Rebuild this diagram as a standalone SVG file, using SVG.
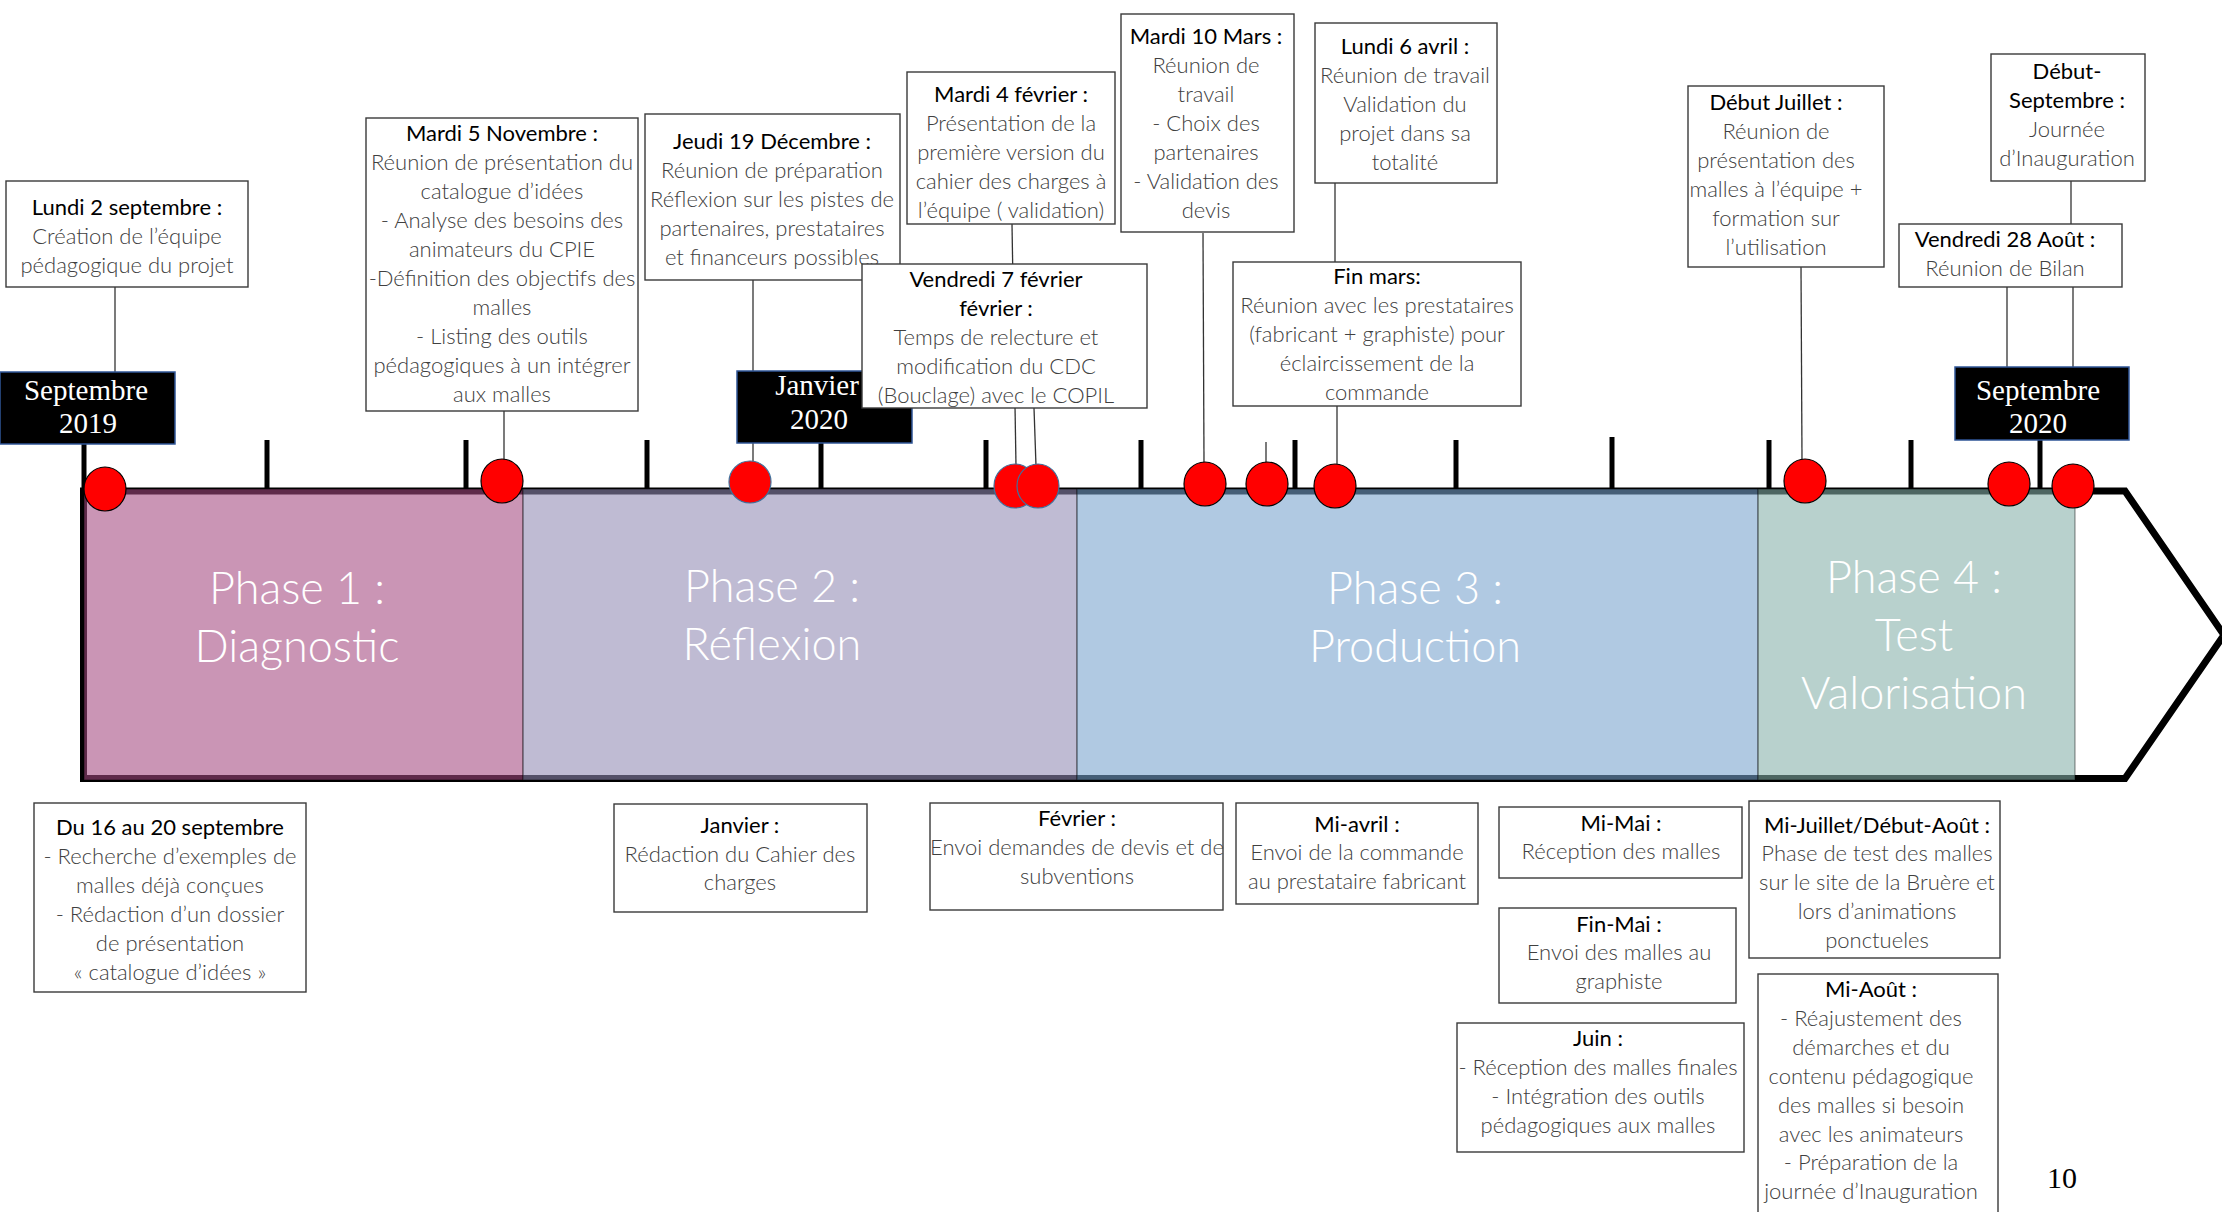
<svg xmlns="http://www.w3.org/2000/svg" width="2222" height="1212" viewBox="0 0 2222 1212">
<style>
.box{fill:#fff;stroke:#3a3a3a;stroke-width:1.4}
.t{font-family:Lato,"Liberation Sans",sans-serif;font-size:22px;text-anchor:middle}
.h{fill:#000;font-weight:400}
.b{fill:#404040;font-weight:300}
.conn{stroke:#333;stroke-width:1.3;fill:none}
.tick{stroke:#000;stroke-width:5}
.dot{fill:#ff0000;stroke:#000;stroke-width:1.2}
.dotb{fill:#ff0000;stroke:#41719c;stroke-width:1.2}
.month{fill:#000;stroke:#2f5597;stroke-width:1.5}
.mt{font-family:"Liberation Serif",serif;font-size:29px;fill:#fff;text-anchor:middle}
.ph{font-family:Lato,"Liberation Sans",sans-serif;font-weight:300;font-size:45px;fill:#fff;text-anchor:middle}
</style>

<g id="ticks">
<line class="tick" x1="84" y1="444" x2="84" y2="488"/>
<line class="tick" x1="267" y1="440" x2="267" y2="488"/>
<line class="tick" x1="466" y1="440" x2="466" y2="488"/>
<line class="tick" x1="647" y1="440" x2="647" y2="488"/>
<line class="tick" x1="821" y1="443" x2="821" y2="488"/>
<line class="tick" x1="986" y1="440" x2="986" y2="488"/>
<line class="tick" x1="1141" y1="440" x2="1141" y2="488"/>
<line class="tick" x1="1295" y1="440" x2="1295" y2="488"/>
<line class="tick" x1="1456" y1="440" x2="1456" y2="488"/>
<line class="tick" x1="1612" y1="437" x2="1612" y2="488"/>
<line class="tick" x1="1769" y1="440" x2="1769" y2="488"/>
<line class="tick" x1="1911" y1="440" x2="1911" y2="488"/>
<line class="tick" x1="2040" y1="440" x2="2040" y2="488"/>
</g>

<g id="timeline">
<path d="M83.5,491 L2125,491 L2224,635 L2125,778.5 L83.5,778.5 Z" fill="#fff" stroke="#000" stroke-width="7" stroke-linejoin="miter"/>
<rect x="84" y="489" width="439" height="291" fill="#A44880" fill-opacity="0.58" stroke="#000" stroke-opacity="0.5" stroke-width="1"/>
<rect x="523" y="489" width="554" height="291" fill="#918AB3" fill-opacity="0.58" stroke="#000" stroke-opacity="0.5" stroke-width="1"/>
<rect x="1077" y="489" width="681" height="291" fill="#77A2CD" fill-opacity="0.58" stroke="#000" stroke-opacity="0.5" stroke-width="1"/>
<rect x="1758" y="489" width="317" height="291" fill="#85B0A9" fill-opacity="0.58" stroke="#000" stroke-opacity="0.5" stroke-width="1"/>
<text class="ph" x="297" y="604">Phase 1 :</text>
<text class="ph" x="297" y="662">Diagnostic</text>
<text class="ph" x="772" y="602">Phase 2 :</text>
<text class="ph" x="772" y="660">Réflexion</text>
<text class="ph" x="1415" y="604">Phase 3 :</text>
<text class="ph" x="1415" y="662">Production</text>
<text class="ph" x="1914" y="593">Phase 4 :</text>
<text class="ph" x="1914" y="651">Test</text>
<text class="ph" x="1914" y="709">Valorisation</text>
</g>

<g id="connectors">
<line class="conn" x1="115" y1="287" x2="115" y2="372"/>
<line class="conn" x1="504" y1="411" x2="504" y2="460"/>
<line class="conn" x1="753" y1="280" x2="753" y2="462"/>
<line class="conn" x1="1012" y1="224" x2="1016" y2="466"/>
<line class="conn" x1="1034" y1="408" x2="1036" y2="466"/>
<line class="conn" x1="1203" y1="233" x2="1204" y2="463"/>
<line class="conn" x1="1266" y1="442" x2="1266" y2="463"/>
<line class="conn" x1="1335" y1="183" x2="1335" y2="262"/>
<line class="conn" x1="1337" y1="406" x2="1337" y2="464"/>
<line class="conn" x1="1801" y1="267" x2="1802" y2="460"/>
<line class="conn" x1="2071" y1="181" x2="2071" y2="224"/>
<line class="conn" x1="2073" y1="287" x2="2073" y2="367"/>
<line class="conn" x1="2007" y1="287" x2="2007" y2="367"/>
</g>

<g id="sept2019">
<rect class="month" x="0" y="372" width="175" height="72"/>
<text class="mt" x="86" y="400">Septembre</text>
<text class="mt" x="88" y="433">2019</text>
</g>
<g id="jan2020">
<rect class="month" x="737" y="371" width="175" height="72"/>
<text class="mt" x="817" y="395">Janvier</text>
<text class="mt" x="819" y="429">2020</text>
</g>
<g id="sept2020">
<rect class="month" x="1955" y="367" width="174" height="73"/>
<text class="mt" x="2038" y="400">Septembre</text>
<text class="mt" x="2038" y="433">2020</text>
</g>

<g id="dots">
<ellipse class="dot" cx="105" cy="489" rx="21" ry="22"/>
<ellipse class="dot" cx="502" cy="481" rx="21" ry="22"/>
<ellipse class="dotb" cx="750" cy="482" rx="21" ry="21"/>
<ellipse class="dotb" cx="1015" cy="486" rx="21" ry="22"/>
<ellipse class="dotb" cx="1038" cy="486" rx="21" ry="22"/>
<ellipse class="dot" cx="1205" cy="484" rx="21" ry="22"/>
<ellipse class="dot" cx="1267" cy="484" rx="21" ry="22"/>
<ellipse class="dot" cx="1335" cy="486" rx="21" ry="22"/>
<ellipse class="dot" cx="1805" cy="481" rx="21" ry="22"/>
<ellipse class="dot" cx="2009" cy="484" rx="21" ry="22"/>
<ellipse class="dot" cx="2073" cy="486" rx="21" ry="22"/>
</g>

<g id="n-lundi2sept">
<rect class="box" x="6" y="181" width="242" height="106"/>
<text class="t h" x="127" y="215">Lundi 2 septembre :</text>
<text class="t b" x="127" y="244">Création de l’équipe</text>
<text class="t b" x="127" y="273">pédagogique du projet</text>
</g>

<g id="n-mardi5nov">
<rect class="box" x="366" y="118" width="272" height="293"/>
<text class="t h" x="502" y="141">Mardi 5 Novembre :</text>
<text class="t b" x="502" y="170">Réunion de présentation du</text>
<text class="t b" x="502" y="199">catalogue d’idées</text>
<text class="t b" x="502" y="228">- Analyse des besoins des</text>
<text class="t b" x="502" y="257">animateurs du CPIE</text>
<text class="t b" x="502" y="286">-Définition des objectifs des</text>
<text class="t b" x="502" y="315">malles</text>
<text class="t b" x="502" y="344">- Listing des outils</text>
<text class="t b" x="502" y="373">pédagogiques à un intégrer</text>
<text class="t b" x="502" y="402">aux malles</text>
</g>

<g id="n-jeudi19dec">
<rect class="box" x="645" y="114" width="255" height="166"/>
<text class="t h" x="772" y="149">Jeudi 19 Décembre :</text>
<text class="t b" x="772" y="178">Réunion de préparation</text>
<text class="t b" x="772" y="207">Réflexion sur les pistes de</text>
<text class="t b" x="772" y="236">partenaires, prestataires</text>
<text class="t b" x="772" y="265">et financeurs possibles</text>
</g>

<g id="n-mardi4fev">
<rect class="box" x="907" y="72" width="208" height="152"/>
<text class="t h" x="1011" y="102">Mardi 4 février :</text>
<text class="t b" x="1011" y="131">Présentation de la</text>
<text class="t b" x="1011" y="160">première version du</text>
<text class="t b" x="1011" y="189">cahier des charges à</text>
<text class="t b" x="1011" y="218">l’équipe ( validation)</text>
</g>

<g id="n-vendredi7fev">
<rect class="box" x="862" y="264" width="285" height="144"/>
<text class="t h" x="996" y="287">Vendredi 7 février</text>
<text class="t h" x="996" y="316">février :</text>
<text class="t b" x="996" y="345">Temps de relecture et</text>
<text class="t b" x="996" y="374">modification du CDC</text>
<text class="t b" x="996" y="403">(Bouclage) avec le COPIL</text>
</g>

<g id="n-mardi10mars">
<rect class="box" x="1121" y="14" width="173" height="218"/>
<text class="t h" x="1206" y="44">Mardi 10 Mars :</text>
<text class="t b" x="1206" y="73">Réunion de</text>
<text class="t b" x="1206" y="102">travail</text>
<text class="t b" x="1206" y="131">- Choix des</text>
<text class="t b" x="1206" y="160">partenaires</text>
<text class="t b" x="1206" y="189">- Validation des</text>
<text class="t b" x="1206" y="218">devis</text>
</g>

<g id="n-lundi6avril">
<rect class="box" x="1315" y="23" width="182" height="160"/>
<text class="t h" x="1405" y="54">Lundi 6 avril :</text>
<text class="t b" x="1405" y="83">Réunion de travail</text>
<text class="t b" x="1405" y="112">Validation du</text>
<text class="t b" x="1405" y="141">projet dans sa</text>
<text class="t b" x="1405" y="170">totalité</text>
</g>

<g id="n-finmars">
<rect class="box" x="1233" y="262" width="288" height="144"/>
<text class="t h" x="1377" y="284">Fin mars:</text>
<text class="t b" x="1377" y="313">Réunion avec les prestataires</text>
<text class="t b" x="1377" y="342">(fabricant + graphiste) pour</text>
<text class="t b" x="1377" y="371">éclaircissement de la</text>
<text class="t b" x="1377" y="400">commande</text>
</g>

<g id="n-debutjuillet">
<rect class="box" x="1688" y="86" width="196" height="181"/>
<text class="t h" x="1776" y="110">Début Juillet :</text>
<text class="t b" x="1776" y="139">Réunion de</text>
<text class="t b" x="1776" y="168">présentation des</text>
<text class="t b" x="1776" y="197">malles à l’équipe +</text>
<text class="t b" x="1776" y="226">formation sur</text>
<text class="t b" x="1776" y="255">l’utilisation</text>
</g>

<g id="n-debutsept">
<rect class="box" x="1991" y="54" width="154" height="127"/>
<text class="t h" x="2067" y="79">Début-</text>
<text class="t h" x="2067" y="108">Septembre :</text>
<text class="t b" x="2067" y="137">Journée</text>
<text class="t b" x="2067" y="166">d’Inauguration</text>
</g>

<g id="n-vendredi28aout">
<rect class="box" x="1899" y="224" width="223" height="63"/>
<text class="t h" x="2005" y="247">Vendredi 28 Août :</text>
<text class="t b" x="2005" y="276">Réunion de Bilan</text>
</g>

<g id="n-du16au20sept">
<rect class="box" x="34" y="803" width="272" height="189"/>
<text class="t h" x="170" y="835">Du 16 au 20 septembre</text>
<text class="t b" x="170" y="864">- Recherche d’exemples de</text>
<text class="t b" x="170" y="893">malles déjà conçues</text>
<text class="t b" x="170" y="922">- Rédaction d’un dossier</text>
<text class="t b" x="170" y="951">de présentation</text>
<text class="t b" x="170" y="980">« catalogue d’idées »</text>
</g>

<g id="n-janvier">
<rect class="box" x="614" y="804" width="253" height="108"/>
<text class="t h" x="740" y="833">Janvier :</text>
<text class="t b" x="740" y="862">Rédaction du Cahier des</text>
<text class="t b" x="740" y="890">charges</text>
</g>

<g id="n-fevrier">
<rect class="box" x="930" y="803" width="293" height="107"/>
<text class="t h" x="1077" y="826">Février :</text>
<text class="t b" x="1077" y="855">Envoi demandes de devis et de</text>
<text class="t b" x="1077" y="884">subventions</text>
</g>

<g id="n-miavril">
<rect class="box" x="1236" y="803" width="242" height="101"/>
<text class="t h" x="1357" y="832">Mi-avril :</text>
<text class="t b" x="1357" y="860">Envoi de la commande</text>
<text class="t b" x="1357" y="889">au prestataire fabricant</text>
</g>

<g id="n-mimai">
<rect class="box" x="1499" y="807" width="243" height="71"/>
<text class="t h" x="1621" y="831">Mi-Mai :</text>
<text class="t b" x="1621" y="859">Réception des malles</text>
</g>

<g id="n-finmai">
<rect class="box" x="1499" y="908" width="237" height="95"/>
<text class="t h" x="1619" y="932">Fin-Mai :</text>
<text class="t b" x="1619" y="960">Envoi des malles au</text>
<text class="t b" x="1619" y="989">graphiste</text>
</g>

<g id="n-juin">
<rect class="box" x="1457" y="1023" width="287" height="129"/>
<text class="t h" x="1598" y="1046">Juin :</text>
<text class="t b" x="1598" y="1075">- Réception des malles finales</text>
<text class="t b" x="1598" y="1104">- Intégration des outils</text>
<text class="t b" x="1598" y="1133">pédagogiques aux malles</text>
</g>

<g id="n-mijuillet">
<rect class="box" x="1749" y="801" width="251" height="157"/>
<text class="t h" x="1877" y="833">Mi-Juillet/Début-Août :</text>
<text class="t b" x="1877" y="861">Phase de test des malles</text>
<text class="t b" x="1877" y="890">sur le site de la Bruère et</text>
<text class="t b" x="1877" y="919">lors d’animations</text>
<text class="t b" x="1877" y="948">ponctueles</text>
</g>

<g id="n-miaout">
<rect class="box" x="1758" y="974" width="240" height="250"/>
<text class="t h" x="1871" y="997">Mi-Août :</text>
<text class="t b" x="1871" y="1026">- Réajustement des</text>
<text class="t b" x="1871" y="1055">démarches et du</text>
<text class="t b" x="1871" y="1084">contenu pédagogique</text>
<text class="t b" x="1871" y="1113">des malles si besoin</text>
<text class="t b" x="1871" y="1142">avec les animateurs</text>
<text class="t b" x="1871" y="1170">- Préparation de la</text>
<text class="t b" x="1871" y="1199">journée d’Inauguration</text>
</g>

<text x="2062" y="1188" font-family="Liberation Serif, serif" font-size="30" fill="#000" text-anchor="middle">10</text>
</svg>
